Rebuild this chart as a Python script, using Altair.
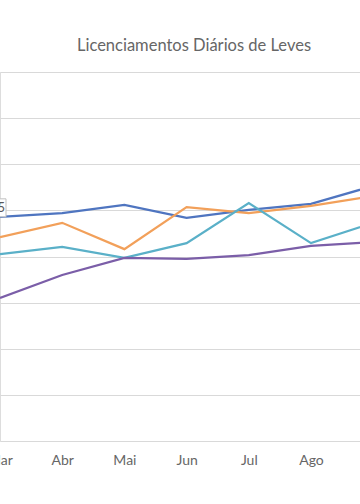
import altair as alt
import pandas as pd

months = ["Mar", "Abr", "Mai", "Jun", "Jul", "Ago", "Set"]
serie_a = [4860, 4940, 5120, 4840, 5010, 5140, 5530]  # azul
serie_b = [4420, 4730, 4160, 5070, 4940, 5100, 5310]  # laranja
serie_c = [4050, 4210, 3970, 4290, 5160, 4290, 4730]  # turquesa
serie_d = [3100, 3600, 3970, 3950, 4030, 4230, 4310]  # roxo
series_names = ["Série 1", "Série 2", "Série 3", "Série 4"]
colors = ["#4F75C0", "#F2A05A", "#5AB0C8", "#7B5EA8"]
grid_values = [0, 1000, 2000, 3000, 4000, 5000, 6000, 7000, 8000]

rows = []
for name, vals in zip(series_names, [serie_a, serie_b, serie_c, serie_d]):
    for i, (m, v) in enumerate(zip(months, vals)):
        rows.append({"serie": name, "idx": i, "mes": m, "valor": v})
df = pd.DataFrame(rows)

label_df = pd.DataFrame([{"idx": 0, "valor": serie_a[0], "txt": "4.865"}])

x_scale = alt.Scale(domain=[0, 5.788], nice=False, zero=False)
y_scale = alt.Scale(domain=[0, 8000], nice=False)

label_expr = "['Mar','Abr','Mai','Jun','Jul','Ago','Set'][datum.value]"

lines = alt.Chart(df).mark_line(strokeWidth=2.25, clip=True).encode(
    x=alt.X("idx:Q", scale=x_scale,
            axis=alt.Axis(values=[0, 1, 2, 3, 4, 5], labelExpr=label_expr,
                          title=None, ticks=False, domain=False, grid=False,
                          labelFlush=False, labelOverlap=False,
                          labelFont="Lato", labelFontSize=14,
                          labelColor="#666666", labelPadding=12)),
    y=alt.Y("valor:Q", scale=y_scale,
            axis=alt.Axis(values=grid_values, labels=False, ticks=False,
                          domain=False, grid=True, gridColor="#D9D9D9",
                          gridWidth=1, title=None)),
    color=alt.Color("serie:N", scale=alt.Scale(domain=series_names, range=colors),
                    legend=None),
)

box = alt.Chart(label_df).mark_rect(
    width=46, height=18, xOffset=-17, yOffset=-9,
    fill="white", stroke="#BFBFBF", strokeWidth=1
).encode(x=alt.X("idx:Q", scale=x_scale), y=alt.Y("valor:Q", scale=y_scale))

txt = alt.Chart(label_df).mark_text(
    align="right", baseline="middle", dx=5, dy=-9,
    font="Lato", fontSize=13, color="#595959"
).encode(x=alt.X("idx:Q", scale=x_scale), y=alt.Y("valor:Q", scale=y_scale),
         text="txt:N")

chart = alt.layer(lines, box, txt).properties(
    width=360, height=369,
    title=alt.TitleParams("Licenciamentos Diários de Leves", anchor="middle",
                          dx=14, offset=5, baseline="alphabetic",
                          font="Lato", fontSize=16.5, fontWeight="normal",
                          color="#666666"),
    autosize=alt.AutoSizeParams(type="none"),
    padding={"left": 0, "top": 72, "right": 0, "bottom": 63},
).configure_view(stroke=None).configure(background="white")

chart.save("out.html", embed_options={"renderer": "svg", "actions": False})
